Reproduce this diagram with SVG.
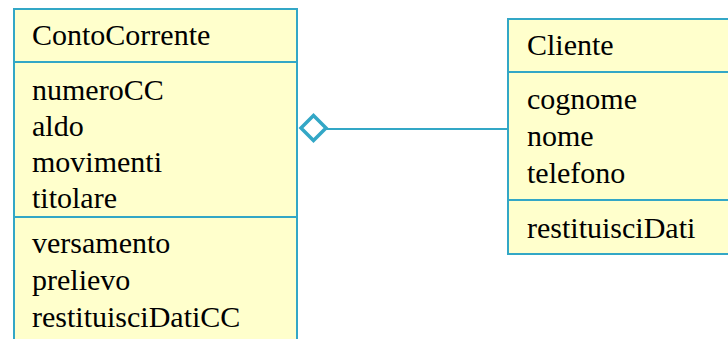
<svg xmlns="http://www.w3.org/2000/svg" width="728" height="339" viewBox="0 0 728 339">
<style>
.box{fill:#FFFFCC;stroke:#33A7C6;stroke-width:2}
.div{stroke:#33A7C6;stroke-width:2}
text{font-family:"Liberation Serif","Times New Roman",serif;font-size:30px;fill:#000}
.conn{stroke:#33A7C6;stroke-width:2;fill:none}
.dia{stroke:#33A7C6;stroke-width:3.5;fill:#fff}
</style>
<rect width="728" height="339" fill="#fff"/>
<g id="ContoCorrente">
<rect class="box" x="14" y="9" width="283" height="340"/>
<line class="div" x1="14" y1="62" x2="297" y2="62"/>
<line class="div" x1="14" y1="217" x2="297" y2="217"/>
<text x="32" y="45">ContoCorrente</text>
<text x="32" y="100">numeroCC</text>
<text x="32" y="136">aldo</text>
<text x="32" y="172">movimenti</text>
<text x="32" y="208">titolare</text>
<text x="32" y="253">versamento</text>
<text x="32" y="290">prelievo</text>
<text x="32" y="327">restituisciDatiCC</text>
</g>
<g id="Cliente">
<rect class="box" x="508" y="19" width="230" height="235"/>
<line class="div" x1="508" y1="72" x2="738" y2="72"/>
<line class="div" x1="508" y1="200" x2="738" y2="200"/>
<text x="527" y="55">Cliente</text>
<text x="527" y="109">cognome</text>
<text x="527" y="146">nome</text>
<text x="527" y="183">telefono</text>
<text x="527" y="238">restituisciDati</text>
</g>
<g id="connectors">
<line class="conn" x1="326" y1="129" x2="508" y2="129"/>
<polygon class="dia" points="301,128 313.5,115.5 326,128 313.5,140.5"/>
</g>
</svg>
